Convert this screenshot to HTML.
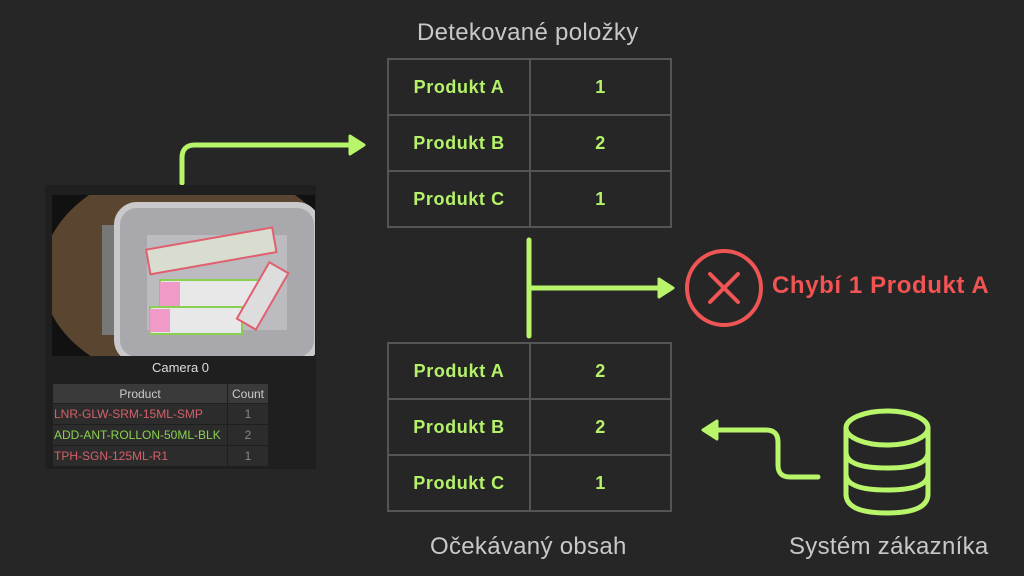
<!DOCTYPE html>
<html><head><meta charset="utf-8"><style>
body{margin:0;width:1024px;height:576px;background:#262626;overflow:hidden;font-family:"Liberation Sans","DejaVu Sans",sans-serif;position:relative}
.t{position:absolute;border-collapse:collapse;left:387px;width:285px}
.t td{border:2px solid #555;height:54px;text-align:center;color:#b5f26a;font-weight:bold;font-size:18px;letter-spacing:0.6px;padding:0}
.t td:first-child{width:140px}
.lbl{position:absolute;color:#c8c8c8;font-size:24px;letter-spacing:0.3px;white-space:nowrap}
</style></head><body>
<div class="lbl" style="left:417px;top:19px">Detekované položky</div>
<table class="t" style="top:58px"><tr><td>Produkt A</td><td>1</td></tr><tr><td>Produkt B</td><td>2</td></tr><tr><td>Produkt C</td><td>1</td></tr></table>
<table class="t" style="top:342px"><tr><td>Produkt A</td><td>2</td></tr><tr><td>Produkt B</td><td>2</td></tr><tr><td>Produkt C</td><td>1</td></tr></table>
<div class="lbl" style="left:430px;top:533px">Očekávaný obsah</div>
<div class="lbl" style="left:789px;top:533px">Systém zákazníka</div>
<div style="position:absolute;left:772px;top:272px;color:#f25353;font-weight:bold;font-size:24px;letter-spacing:0.6px;white-space:nowrap">Chybí 1 Produkt A</div>

<svg width="1024" height="576" style="position:absolute;left:0;top:0" fill="none" stroke-linecap="round" stroke-linejoin="round">
<g stroke="#b8f56a" stroke-width="5">
<path d="M182 183 V158 Q182 145 195 145 H358"/>
<path d="M350 136 L364 145 L350 154 Z" fill="#b8f56a" stroke-width="3"/>
<path d="M529 240 V336"/>
<path d="M531 288 H666"/>
<path d="M659 279 L673 288 L659 297 Z" fill="#b8f56a" stroke-width="3"/>
<path d="M818 477 H790 Q778 477 778 465 V442 Q778 430 766 430 H710"/>
<path d="M717 421 L703 430 L717 439 Z" fill="#b8f56a" stroke-width="3"/>
<ellipse cx="887" cy="428" rx="41" ry="17"/>
<path d="M846 428 V494 Q846 513 887 513 Q928 513 928 494 V428"/>
<path d="M846 452 Q846 468 887 468 Q928 468 928 452"/>
<path d="M846 474 Q846 490 887 490 Q928 490 928 474"/>
</g>
<circle cx="724" cy="288" r="37" stroke="#f05555" stroke-width="4"/>
<path d="M710 274 L738 302 M738 274 L710 302" stroke="#f05555" stroke-width="4"/>
</svg>

<div style="position:absolute;left:45px;top:185px;width:271px;height:284px;background:#1f1f1f">
<svg width="263" height="161" style="position:absolute;left:7px;top:10px">
<rect width="263" height="161" fill="#111"/>
<ellipse cx="140" cy="80" rx="150" ry="110" fill="#5a4630"/>
<rect x="50" y="30" width="30" height="110" fill="#777"/>
<rect x="65" y="10" width="200" height="155" rx="20" fill="#a9a9ad" stroke="#c9c9cc" stroke-width="6"/>
<rect x="95" y="40" width="140" height="95" fill="#bcbcc0"/>
<g transform="rotate(-10 150 55)"><rect x="95" y="45" width="128" height="25" fill="#d8ddd0" stroke="#e06070" stroke-width="2"/></g>
<rect x="108" y="85" width="105" height="28" fill="#e8e8e8" stroke="#8ad050" stroke-width="2"/>
<rect x="108" y="87" width="20" height="24" fill="#f09ac8"/>
<rect x="98" y="112" width="92" height="27" fill="#e8e8e8" stroke="#8ad050" stroke-width="2"/>
<rect x="98" y="114" width="20" height="23" fill="#f09ac8"/>
<g transform="rotate(30 210 100)"><rect x="200" y="68" width="22" height="65" fill="#ddd" stroke="#e06070" stroke-width="2"/></g>
</svg>
<div style="position:absolute;left:0;width:271px;top:175px;text-align:center;color:#ddd;font-size:13px">Camera 0</div>
<table style="position:absolute;left:7px;top:198px;border-collapse:separate;border-spacing:1px;font-size:12px;width:217px">
<tr style="background:#3a3a3a;color:#ccc"><td style="text-align:center;height:17px">Product</td><td style="text-align:center;width:38px">Count</td></tr>
<tr style="background:#2c2c2c"><td style="color:#d5606a;height:18px">LNR-GLW-SRM-15ML-SMP</td><td style="text-align:center;color:#888">1</td></tr>
<tr style="background:#2c2c2c"><td style="color:#8ad050;height:18px">ADD-ANT-ROLLON-50ML-BLK</td><td style="text-align:center;color:#888">2</td></tr>
<tr style="background:#2c2c2c"><td style="color:#d5606a;height:18px">TPH-SGN-125ML-R1</td><td style="text-align:center;color:#888">1</td></tr>
</table>
</div>
</body></html>
